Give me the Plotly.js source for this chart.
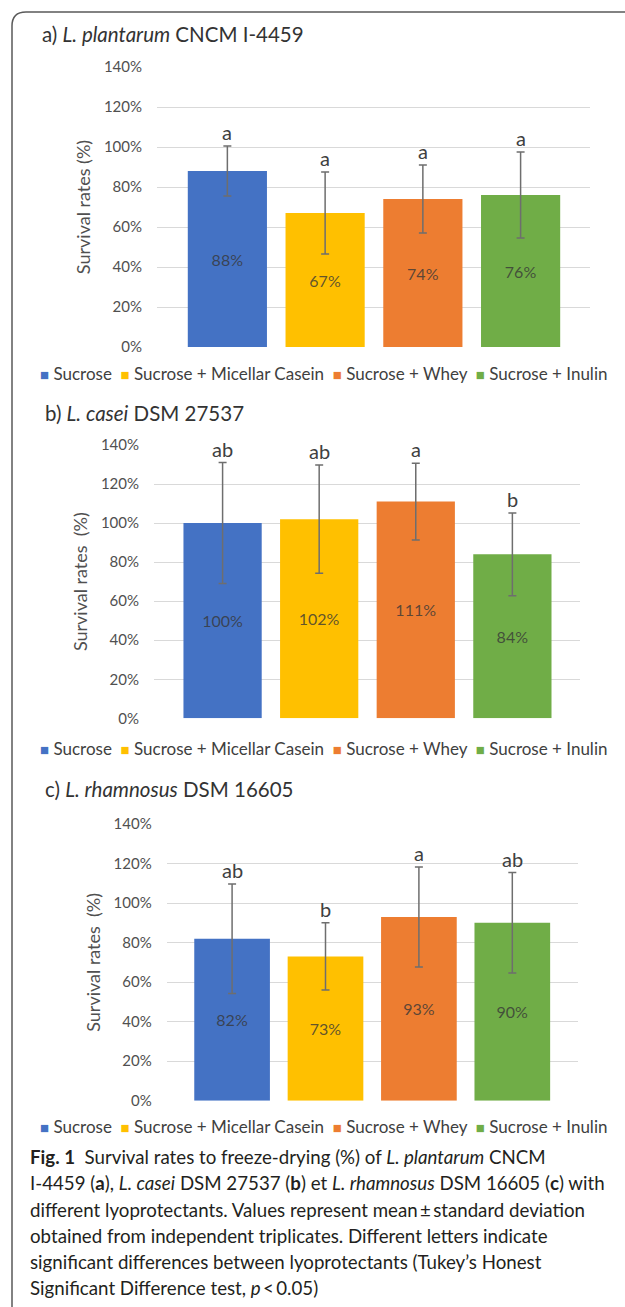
<!DOCTYPE html>
<html>
<head>
<meta charset="utf-8">
<script src="https://cdn.plot.ly/plotly-3.0.1.min.js"></script>
<style>html,body{margin:0;padding:0;background:#fff;}#chart{width:625px;height:1307px;}</style>
</head>
<body>
<div id="chart"></div>
<script>
// ---- data ----
const categories = ['Sucrose', 'Sucrose + Micellar Casein', 'Sucrose + Whey', 'Sucrose + Inulin'];
const colors = ['#4472C4', '#FFC000', '#ED7D31', '#70AD47'];
const yTickVals = [0, 20, 40, 60, 80, 100, 120, 140];
const yTickText = ['0%', '20%', '40%', '60%', '80%', '100%', '120%', '140%'];

const panelTitles = [
  'a) <i>L. plantarum</i> CNCM I-4459',
  'b) <i>L. casei</i> DSM 27537',
  'c) <i>L. rhamnosus</i> DSM 16605'
];
const yTitles = ['Survival rates (%)', 'Survival rates\u00a0 (%)', 'Survival rates\u00a0 (%)'];

const valuesA = [88, 67, 74, 76];
const errorsA = [12.5, 20.5, 17, 21.5];
const lettersA = ['a', 'a', 'a', 'a'];

const valuesB = [100, 102, 111, 84];
const errorsB = [31, 27.7, 19.7, 21.2];
const lettersB = ['ab', 'ab', 'a', 'b'];

const valuesC = [82, 73, 93, 90];
const errorsC = [27.7, 17, 25.3, 25.4];
const lettersC = ['ab', 'b', 'a', 'ab'];

const captionLines = [
  '<b>Fig. 1</b>\u00a0 Survival rates to freeze-drying (%) of <i>L. plantarum</i> CNCM',
  'I-4459 (<b>a</b>), <i>L. casei</i> DSM 27537 (<b>b</b>) et <i>L. rhamnosus</i> DSM 16605 (<b>c</b>) with',
  'different lyoprotectants. Values represent mean\u2009\u00b1\u2009standard deviation',
  'obtained from independent triplicates. Different letters indicate',
  'significant differences between lyoprotectants (Tukey\u2019s Honest',
  'Significant Difference test, <i>p</i>\u2009<\u20090.05)'
];

// ---- layout helpers (pixel -> paper) ----
const W = 625, H = 1307;
const px = v => v / W;
const py = v => 1 - v / H;
const FONT = 'Lato, "Open Sans", sans-serif';

const panels = [
  {vals: valuesA, errs: errorsA, letters: lettersA, xd: [157, 590], yd: [67, 347], range: [-0.72, 3.71], titleY: 34, titleX: 40, legendY: 374},
  {vals: valuesB, errs: errorsB, letters: lettersB, xd: [154, 580], yd: [445, 718.3], range: [-0.71, 3.70], titleY: 413, titleX: 43, legendY: 749},
  {vals: valuesC, errs: errorsC, letters: lettersC, xd: [166.7, 577.7], yd: [824, 1100.7], range: [-0.70, 3.70], titleY: 789, titleX: 43, legendY: 1126}
];

const traces = [];
const layout = {
  width: W, height: H,
  margin: {l: 0, r: 0, t: 0, b: 0},
  paper_bgcolor: '#ffffff', plot_bgcolor: '#ffffff',
  showlegend: false,
  font: {family: FONT, color: '#404040'},
  annotations: [],
  shapes: []
};

const nb = '\u00a0';
const legendText = categories.map((c, i) =>
  `<span style="color:${colors[i]};font-size:15px">\u25A0</span>${nb}${c}`).join(nb + nb);

panels.forEach((p, k) => {
  const sfx = k === 0 ? '' : String(k + 1);
  const xa = 'x' + sfx, ya = 'y' + sfx;
  traces.push({
    type: 'bar', x: categories, y: p.vals, xaxis: xa, yaxis: ya,
    marker: {color: colors},
    width: 0.81,
    text: p.vals.map(v => v + '%'),
    textposition: 'inside', insidetextanchor: 'middle', textangle: 0,
    textfont: {family: FONT, size: 16, color: 'rgba(55,55,55,0.8)'},
    error_y: {type: 'data', array: p.errs, visible: true, color: '#6e6e6e', thickness: 1.5, width: 4},
    hoverinfo: 'skip', cliponaxis: false
  });
  layout['xaxis' + sfx] = {
    domain: [px(p.xd[0]), px(p.xd[1])], anchor: ya,
    type: 'category', range: p.range, showticklabels: false, ticks: '',
    showgrid: false, zeroline: false, showline: false, fixedrange: true
  };
  layout['yaxis' + sfx] = {
    domain: [py(p.yd[1]), py(p.yd[0])], anchor: xa,
    range: [0, 140], tickmode: 'array', tickvals: yTickVals, ticktext: yTickText, ticks: '',
    ticklabelstandoff: 14,
    tickfont: {family: FONT, size: 15, color: '#505050'},
    showgrid: true, gridcolor: '#d9d9d9', gridwidth: 1,
    zeroline: false, showline: false, fixedrange: true,
    title: {text: yTitles[k], font: {family: FONT, size: 18, color: '#505050'}, standoff: 8}
  };
  // significance letters
  p.letters.forEach((L, i) => {
    layout.annotations.push({
      xref: xa, yref: ya, x: categories[i], y: p.vals[i] + p.errs[i],
      text: L, showarrow: false, yanchor: 'bottom', yshift: 0,
      font: {family: FONT, size: 20, color: '#404040'}
    });
  });
  // panel title
  layout.annotations.push({
    xref: 'paper', yref: 'paper', x: px(p.titleX), y: py(p.titleY),
    xanchor: 'left', yanchor: 'middle', showarrow: false,
    text: panelTitles[k], font: {family: FONT, size: 20.5, color: '#333333'}
  });
  // legend row
  layout.annotations.push({
    xref: 'paper', yref: 'paper', x: px(38), y: py(p.legendY),
    xanchor: 'left', yanchor: 'middle', showarrow: false,
    text: legendText, font: {family: FONT, size: 17, color: '#404040'}
  });
});

// caption
const capY = [1156.7, 1183.3, 1210, 1235.7, 1262.3, 1288.3];
captionLines.forEach((t, i) => {
  layout.annotations.push({
    xref: 'paper', yref: 'paper', x: px(28), y: py(capY[i]),
    xanchor: 'left', yanchor: 'middle', showarrow: false,
    text: t, font: {family: FONT, size: 18.7, color: '#231f20'}
  });
});

// figure frame (rounded top-left corner, open to the right and bottom)
layout.shapes.push({
  type: 'path', xref: 'paper', yref: 'paper',
  path: `M ${px(12)},${py(1320)} L ${px(12)},${py(26)} Q ${px(12)},${py(12)} ${px(26)},${py(12)} L ${px(640)},${py(12)}`,
  line: {color: '#5a5a5a', width: 1.5}
});

Plotly.newPlot('chart', traces, layout, {staticPlot: true, displayModeBar: false});
</script>
</body>
</html>
